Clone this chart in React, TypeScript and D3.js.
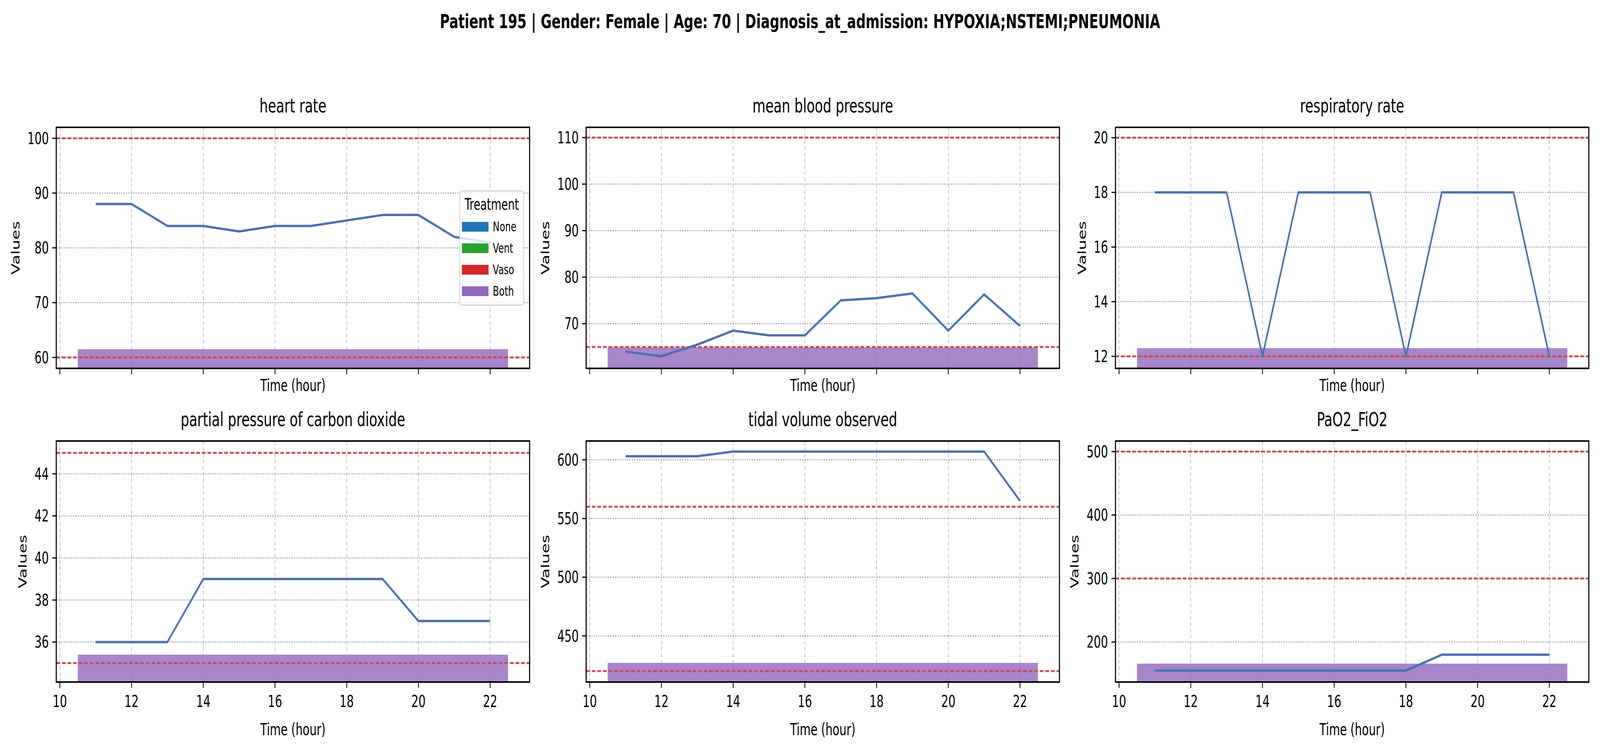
import { useEffect, useRef } from 'react';
import * as d3 from 'd3';

const suptitle = 'Patient 195 | Gender: Female | Age: 70 | Diagnosis_at_admission: HYPOXIA;NSTEMI;PNEUMONIA';
const hours = [11, 12, 13, 14, 15, 16, 17, 18, 19, 20, 21, 22];

const titles = ['heart rate', 'mean blood pressure', 'respiratory rate', 'partial pressure of carbon dioxide', 'tidal volume observed', 'PaO2_FiO2'];
const heartRate = [88, 88, 84, 84, 83, 84, 84, 85, 86, 86, 82, 81];
const meanBP = [64, 63, 65.5, 68.5, 67.5, 67.5, 75, 75.5, 76.5, 68.5, 76.3, 69.5];
const respRate = [18, 18, 18, 12, 18, 18, 18, 12, 18, 18, 18, 12];
const pco2 = [36, 36, 36, 39, 39, 39, 39, 39, 39, 37, 37, 37];
const tidal = [603, 603, 603, 607, 607, 607, 607, 607, 607, 607, 607, 565];
const pafi = [155, 155, 155, 155, 155, 155, 155, 155, 180, 180, 180, 180];
const seriesValues = [heartRate, meanBP, respRate, pco2, tidal, pafi];

const yDomains: [number, number][] = [[58, 102], [60.4, 112.2], [11.56, 20.38], [34.1, 45.56], [410.7, 616], [137, 516.6]];
const yTicks = [[60, 70, 80, 90, 100], [70, 80, 90, 100, 110], [12, 14, 16, 18, 20], [36, 38, 40, 42, 44], [450, 500, 550, 600], [200, 300, 400, 500]];
const thresholds = [[60, 100], [65, 110], [12, 20], [35, 45], [420, 560], [300, 500]];
const treatmentTop = [61.5, 64.9, 12.3, 35.4, 427, 166];
const treatmentSpan = [10.5, 22.5];
const xTicks = [10, 12, 14, 16, 18, 20, 22];
const legendLabels = ['None', 'Vent', 'Vaso', 'Both'];
const legendColors = ['#1f77b4', '#2ca02c', '#d62728', '#9467bd'];

export default function App() {
  const svgRef = useRef<SVGSVGElement>(null);

  useEffect(() => {
    if (!svgRef.current) return;
    const svg = d3.select(svgRef.current);
    svg.selectAll('*').remove();
    const font = 'DejaVu Sans';

    svg.append('rect').attr('width', 6000).attr('height', 1920).attr('fill', 'white');
    svg.append('text').attr('x', 3000).attr('y', 72).attr('text-anchor', 'middle')
      .attr('font-family', font).attr('font-size', 50).attr('font-weight', 'bold').text(suptitle);

    const colLeft = [211, 2198, 4183];
    const rowTop = [326, 1129];
    const w = 1775, h = 617;

    seriesValues.forEach((vals, i) => {
      const r = Math.floor(i / 3), c = i % 3;
      const g = svg.append('g').attr('transform', `translate(${colLeft[c]},${rowTop[r]})`);
      const x = d3.scaleLinear().domain([9.9, 23.1]).range([0, w]);
      const y = d3.scaleLinear().domain(yDomains[i]).range([h, 0]);

      // grid
      g.selectAll('.vg').data(xTicks).enter().append('line')
        .attr('x1', d => x(d)).attr('x2', d => x(d)).attr('y1', 0).attr('y2', h)
        .attr('stroke', '#b0b0b0').attr('stroke-width', 2).attr('stroke-dasharray', '10,6');
      g.selectAll('.hg').data(yTicks[i]).enter().append('line')
        .attr('x1', 0).attr('x2', w).attr('y1', d => y(d)).attr('y2', d => y(d))
        .attr('stroke', '#a0a0a0').attr('stroke-width', 2.5).attr('stroke-dasharray', '5,4');

      // treatment bar
      const [d0] = yDomains[i];
      g.append('rect').attr('x', x(treatmentSpan[0])).attr('width', x(treatmentSpan[1]) - x(treatmentSpan[0]))
        .attr('y', y(treatmentTop[i])).attr('height', y(d0) - y(treatmentTop[i]))
        .attr('fill', '#9467bd').attr('opacity', 0.8);

      // thresholds
      g.selectAll('.th').data(thresholds[i]).enter().append('line')
        .attr('x1', 0).attr('x2', w).attr('y1', d => y(d)).attr('y2', d => y(d))
        .attr('stroke', '#c44e52').attr('stroke-width', 5).attr('stroke-dasharray', '14,7');

      const line = d3.line<number>().x((_, k) => x(hours[k])).y(d => y(d));
      g.append('path').datum(vals).attr('d', line).attr('fill', 'none')
        .attr('stroke', '#4c72b0').attr('stroke-width', 6).attr('stroke-linejoin', 'round');

      // frame
      g.append('rect').attr('width', w).attr('height', h).attr('fill', 'none')
        .attr('stroke', 'black').attr('stroke-width', 4);

      // ticks
      g.selectAll('.xt').data(xTicks).enter().append('line')
        .attr('x1', d => x(d)).attr('x2', d => x(d)).attr('y1', h).attr('y2', h + 15)
        .attr('stroke', 'black').attr('stroke-width', 3);
      if (r === 1) {
        g.selectAll('.xl').data(xTicks).enter().append('text')
          .attr('x', d => x(d)).attr('y', h + 64).attr('text-anchor', 'middle')
          .attr('font-family', font).attr('font-size', 42).text(d => d);
      }
      g.selectAll('.yt').data(yTicks[i]).enter().append('line')
        .attr('x1', -15).attr('x2', 0).attr('y1', d => y(d)).attr('y2', d => y(d))
        .attr('stroke', 'black').attr('stroke-width', 3);
      g.selectAll('.yl').data(yTicks[i]).enter().append('text')
        .attr('x', -28).attr('y', d => y(d)).attr('dy', '0.35em').attr('text-anchor', 'end')
        .attr('font-family', font).attr('font-size', 42).text(d => d);

      const maxDigits = d3.max(yTicks[i], d => String(d).length) || 2;
      const lx = -28 - maxDigits * 26.7 - 30;
      g.append('text').attr('transform', `translate(${lx},${h / 2}) rotate(-90)`)
        .attr('text-anchor', 'middle').attr('font-family', font).attr('font-size', 42).text('Values');
      g.append('text').attr('x', w / 2).attr('y', r === 1 ? h + 136 : h + 58).attr('text-anchor', 'middle')
        .attr('font-family', font).attr('font-size', 42).text('Time (hour)');
      g.append('text').attr('x', w / 2).attr('y', -38).attr('text-anchor', 'middle')
        .attr('font-family', font).attr('font-size', 50).text(titles[i]);

      if (i === 0) {
        const lg = g.append('g').attr('transform', `translate(${1724 - 211},${489 - 326})`);
        lg.append('rect').attr('width', 240).attr('height', 292).attr('rx', 8)
          .attr('fill', 'white').attr('fill-opacity', 0.8).attr('stroke', '#d0d0d0').attr('stroke-width', 3);
        lg.append('text').attr('x', 120).attr('y', 48).attr('text-anchor', 'middle')
          .attr('font-family', font).attr('font-size', 40).text('Treatment');
        legendLabels.forEach((lab, k) => {
          const yy = 91 + k * 55;
          lg.append('rect').attr('x', 8).attr('y', yy - 12).attr('width', 100).attr('height', 25).attr('fill', legendColors[k]);
          lg.append('text').attr('x', 124).attr('y', yy).attr('dy', '0.35em')
            .attr('font-family', font).attr('font-size', 34).text(lab);
        });
      }
    });
  }, []);

  return (
    <svg ref={svgRef} viewBox="0 0 6000 1920" preserveAspectRatio="none"
      style={{ position: 'fixed', left: 0, top: 0, width: '100vw', height: '100vh', background: 'white', display: 'block' }} />
  );
}
